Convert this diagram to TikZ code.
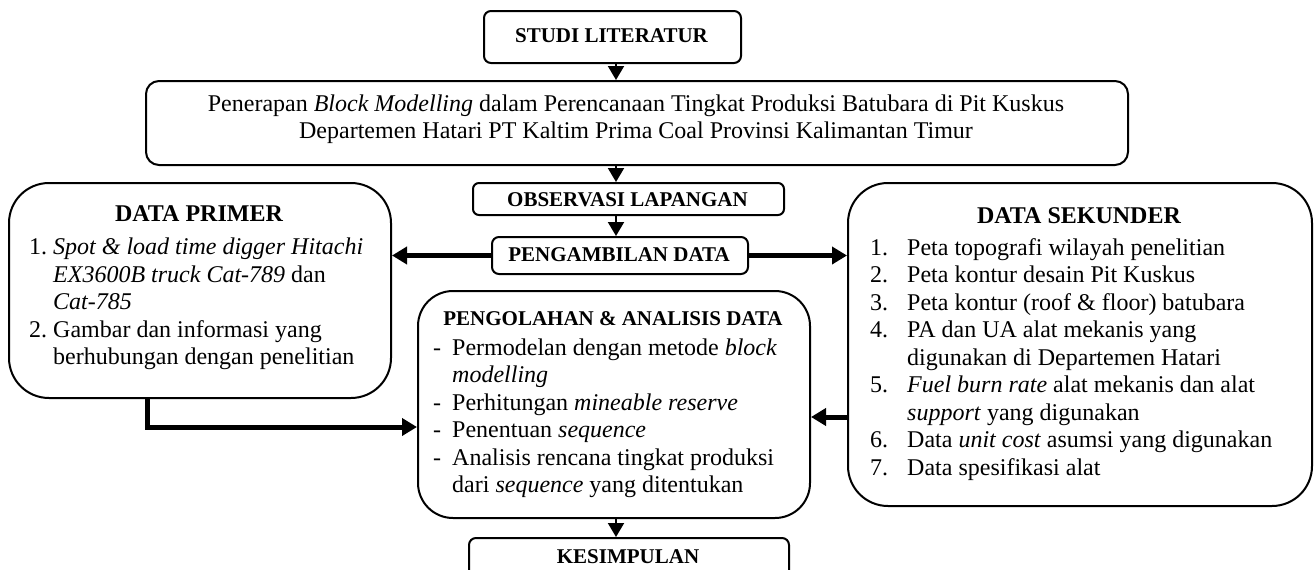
\documentclass[tikz,border=0pt]{standalone}
\usepackage{fontspec}
\setmainfont{Liberation Serif}
\usetikzlibrary{arrows.meta}
\newcommand\bodyf{\fontsize{24pt}{27.5pt}\selectfont}
\newcommand\hdf{\fontsize{24pt}{27.5pt}\selectfont\bfseries}
\newcommand\smf{\fontsize{21pt}{24pt}\selectfont\bfseries}
\begin{document}
\begin{tikzpicture}[x=1pt,y=-1pt,
  box/.style={draw, line width=2pt, inner sep=0pt, anchor=north west},
  txt/.style={inner sep=0pt, font=\bodyf},
  hd/.style={inner sep=0pt, font=\hdf, anchor=base},
  sm/.style={inner sep=0pt, font=\smf, anchor=base},
  lt/.style={txt, anchor=base west},
  varr/.style={line width=2pt, -{Triangle[width=16pt,length=14pt]}},
  harr/.style={line width=5pt, -{Triangle[width=17pt,length=15pt]}}]
\useasboundingbox (0,0) rectangle (1314,570);

% boxes
\node[box, rounded corners=7pt, minimum width=257pt, minimum height=52pt] (studi) at (483,10) {};
\node[box, rounded corners=13pt, minimum width=982pt, minimum height=84pt] (title) at (145,80) {};
\node[box, rounded corners=6pt, minimum width=311pt, minimum height=32pt] (obs) at (472,182) {};
\node[box, rounded corners=7pt, minimum width=256pt, minimum height=37pt] (ambil) at (491,236) {};
\node[box, rounded corners=40pt, minimum width=382pt, minimum height=215pt] (primer) at (8,182) {};
\node[box, rounded corners=35pt, minimum width=392pt, minimum height=227pt] (olah) at (417,290) {};
\node[box, rounded corners=40pt, minimum width=464pt, minimum height=323pt] (sekunder) at (847,182) {};
\node[box, rounded corners=7pt, minimum width=320pt, minimum height=45pt] (kes) at (468,537) {};

% small box texts
\node[sm] (studiT) at (611.5,42) {STUDI LITERATUR};
\node[sm] (obsT) at (627.5,206) {OBSERVASI LAPANGAN};
\node[sm] (ambilT) at (619,261) {PENGAMBILAN DATA};
\node[sm] (kesT) at (628,563) {KESIMPULAN};

% title
\node[txt, anchor=base] (t1) at (636,111) {Penerapan \textit{Block Modelling} dalam Perencanaan Tingkat Produksi Batubara di Pit Kuskus};
\node[txt, anchor=base] (t2) at (636,138.5) {Departemen Hatari PT Kaltim Prima Coal Provinsi Kalimantan Timur};

% data primer
\node[hd] (pH) at (199,221) {DATA PRIMER};
\node[lt] (pn1) at (29,254.5) {1.};
\node[lt] (p1a) at (53,254.5) {\textit{Spot \& load time digger Hitachi}};
\node[lt] (p1b) at (53,282) {\textit{EX3600B truck Cat-789} dan};
\node[lt] (p1c) at (53,309.5) {\textit{Cat-785}};
\node[lt] (pn2) at (29,337) {2.};
\node[lt] (p2a) at (53,337) {Gambar dan informasi yang};
\node[lt] (p2b) at (53,364.5) {berhubungan dengan penelitian};

% pengolahan
\node[sm] (oH) at (613,325) {PENGOLAHAN \& ANALISIS DATA};
\node[lt] (od1) at (433,355) {-};
\node[lt] (o1a) at (452,355) {Permodelan dengan metode \textit{block}};
\node[lt] (o1b) at (452,382.5) {\textit{modelling}};
\node[lt] (od2) at (433,410) {-};
\node[lt] (o2) at (452,410) {Perhitungan \textit{mineable reserve}};
\node[lt] (od3) at (433,437.5) {-};
\node[lt] (o3) at (452,437.5) {Penentuan \textit{sequence}};
\node[lt] (od4) at (433,465) {-};
\node[lt] (o4a) at (452,465) {Analisis rencana tingkat produksi};
\node[lt] (o4b) at (452,492.5) {dari \textit{sequence} yang ditentukan};

% sekunder
\node[hd] (sH) at (1079,223) {DATA SEKUNDER};
\node[lt] (sn1) at (870,255) {1.};
\node[lt] (s1) at (907,255) {Peta topografi wilayah penelitian};
\node[lt] (sn2) at (870,282.5) {2.};
\node[lt] (s2) at (907,282.5) {Peta kontur desain Pit Kuskus};
\node[lt] (sn3) at (870,310) {3.};
\node[lt] (s3) at (907,310) {Peta kontur (roof \& floor) batubara};
\node[lt] (sn4) at (870,337.5) {4.};
\node[lt] (s4a) at (907,337.5) {PA dan UA alat mekanis yang};
\node[lt] (s4b) at (907,365) {digunakan di Departemen Hatari};
\node[lt] (sn5) at (870,392.5) {5.};
\node[lt] (s5a) at (907,392.5) {\textit{Fuel burn rate} alat mekanis dan alat};
\node[lt] (s5b) at (907,420) {\textit{support} yang digunakan};
\node[lt] (sn6) at (870,447.5) {6.};
\node[lt] (s6) at (907,447.5) {Data \textit{unit cost} asumsi yang digunakan};
\node[lt] (sn7) at (870,475) {7.};
\node[lt] (s7) at (907,475) {Data spesifikasi alat};

% connectors
\coordinate (cx) at (616,0);
\draw[varr] (cx |- studi.south) -- (cx |- title.north);
\draw[varr] (cx |- title.south) -- (cx |- obs.north);
\draw[varr] (cx |- obs.south) -- (cx |- ambil.north);
\draw[varr] (cx |- olah.south) -- (cx |- kes.north);
\draw[harr] (ambil.west) -- (ambil.west -| primer.east);
\draw[harr] (ambil.east) -- (ambil.east -| sekunder.west);
\coordinate (ys) at (0,417);
\draw[harr] (sekunder.west |- ys) -- (olah.east |- ys);
\coordinate (ex) at (147,427);
\draw[harr] (ex |- primer.south) |- (olah.west |- ex);
\end{tikzpicture}
\end{document}
